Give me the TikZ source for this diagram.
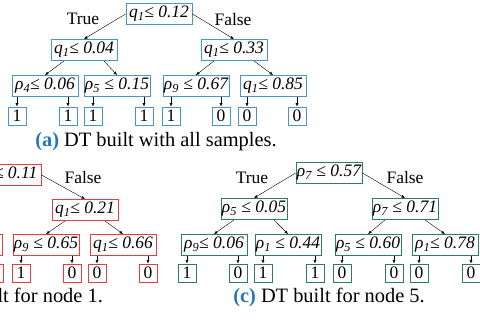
\documentclass[tikz,border=0pt]{standalone}
\usepackage{fontspec}
\setmainfont{Liberation Serif}
\usepackage{xcolor}
\usetikzlibrary{arrows.meta}
\definecolor{dtblue}{RGB}{70,150,205}
\definecolor{dtred}{RGB}{235,60,60}
\definecolor{dtgreen}{RGB}{45,125,95}
\definecolor{capblue}{RGB}{35,120,180}

\begin{document}
\begin{tikzpicture}[x=1pt, y=-1pt,
  split/.style={draw=#1, line width=0.9pt, font=\itshape\fontsize{17.5}{17.5}\selectfont,
    minimum width=66pt, minimum height=21pt, inner sep=0.5pt},
  leaf/.style={draw=#1, line width=0.9pt, font=\fontsize{17.5}{17.5}\selectfont,
    minimum width=18pt, minimum height=18pt, inner sep=0pt},
  lbl/.style={font=\fontsize{17.5}{17.5}\selectfont},
  subcap/.style={font=\fontsize{20.4}{20.4}\selectfont},
  >={Latex[length=3.5pt,width=3pt]}]
\useasboundingbox (0,0) rectangle (480,320);
\clip (0,0) rectangle (480,320);

% (a) all samples
\node[split=dtblue] (a0) at (159,14) {q\textsubscript{1}≤ 0.12};
\node[split=dtblue] (a1) at (84,50) {q\textsubscript{1}≤ 0.04};
\node[split=dtblue] (a2) at (234,50) {q\textsubscript{1}≤ 0.33};
\node[split=dtblue] (a11) at (45,86) {ρ\textsubscript{4}≤ 0.06};
\node[split=dtblue] (a12) at (117,86) {ρ\textsubscript{5} ≤ 0.15};
\node[split=dtblue] (a21) at (196,86) {ρ\textsubscript{9} ≤ 0.67};
\node[split=dtblue] (a22) at (273,86) {q\textsubscript{1}≤ 0.85};
\draw[->] (a0.west) -- (a1.north);
\draw[->] (a0.east) -- (a2.north);
\draw[->] ([xshift=-20pt]a1.south) -- (a11.north);
\draw[->] ([xshift=20pt]a1.south) -- (a12.north);
\draw[->] ([xshift=-20pt]a2.south) -- (a21.north);
\draw[->] ([xshift=20pt]a2.south) -- (a22.north);
\foreach \n/\p/\x/\v in {a111/a11/17/1, a112/a11/68/1, a121/a12/93/1, a122/a12/144/1,
    a211/a21/171/1, a212/a21/221/0, a221/a22/247/0, a222/a22/297/0} {
  \node[leaf=dtblue] (\n) at (\x,116) {\v};
  \draw[->] (\p.south -| \n) -- (\n.north);
}
\node[lbl] (atrue) at (83,19) {True};
\node[lbl] (afalse) at (233,20) {False};
\node[subcap] (acap) at (156,142) {\textbf{\color{capblue}(a)} DT built with all samples.};

% (b) node 1
\node[split=dtred] (b0) at (8,175) {q\textsubscript{1}≤ 0.11};
\node[split=dtred] (b2) at (85,210) {q\textsubscript{1}≤ 0.21};
\node[split=dtred] (b12) at (-31,245) {};
\node[split=dtred] (b21) at (46,245) {ρ\textsubscript{9} ≤ 0.65};
\node[split=dtred] (b22) at (123,245) {q\textsubscript{1}≤ 0.66};
\node[leaf=dtred] (b122) at (-6,273) {};
\draw[->] (b0.east) -- (b2.north);
\draw[->] ([xshift=-20pt]b2.south) -- (b21.north);
\draw[->] ([xshift=20pt]b2.south) -- (b22.north);
\foreach \n/\p/\x/\v in {b211/b21/21/1, b212/b21/72/0, b221/b22/97/0, b222/b22/148/0} {
  \node[leaf=dtred] (\n) at (\x,273) {\v};
  \draw[->] (\p.south -| \n) -- (\n.north);
}
\node[lbl] (bfalse) at (83,178) {False};
\node[subcap] (bcap) at (6,297) {\textbf{\color{capblue}(b)} DT built for node 1.};

% (c) node 5
\node[split=dtgreen] (c0) at (329,173) {ρ\textsubscript{7} ≤ 0.57};
\node[split=dtgreen] (c1) at (254,209) {ρ\textsubscript{5} ≤ 0.05};
\node[split=dtgreen] (c2) at (405,209) {ρ\textsubscript{7} ≤ 0.71};
\node[split=dtgreen] (c11) at (214,245) {ρ\textsubscript{9}≤ 0.06};
\node[split=dtgreen] (c12) at (288,245) {ρ\textsubscript{1} ≤ 0.44};
\node[split=dtgreen] (c21) at (368,245) {ρ\textsubscript{5} ≤ 0.60};
\node[split=dtgreen] (c22) at (445,245) {ρ\textsubscript{1}≤ 0.78};
\draw[->] (c0.west) -- (c1.north);
\draw[->] (c0.east) -- (c2.north);
\draw[->] ([xshift=-20pt]c1.south) -- (c11.north);
\draw[->] ([xshift=20pt]c1.south) -- (c12.north);
\draw[->] ([xshift=-20pt]c2.south) -- (c21.north);
\draw[->] ([xshift=20pt]c2.south) -- (c22.north);
\foreach \n/\p/\x/\v in {c111/c11/187/1, c112/c11/238/0, c121/c12/263/1, c122/c12/315/1,
    c211/c21/342/0, c212/c21/394/0, c221/c22/419/0, c222/c22/471/0} {
  \node[leaf=dtgreen] (\n) at (\x,273) {\v};
  \draw[->] (\p.south -| \n) -- (\n.north);
}
\node[lbl] (ctrue) at (252,178) {True};
\node[lbl] (cfalse) at (405,178) {False};
\node[subcap] (ccap) at (329,297) {\textbf{\color{capblue}(c)} DT built for node 5.};
\end{tikzpicture}
\end{document}
